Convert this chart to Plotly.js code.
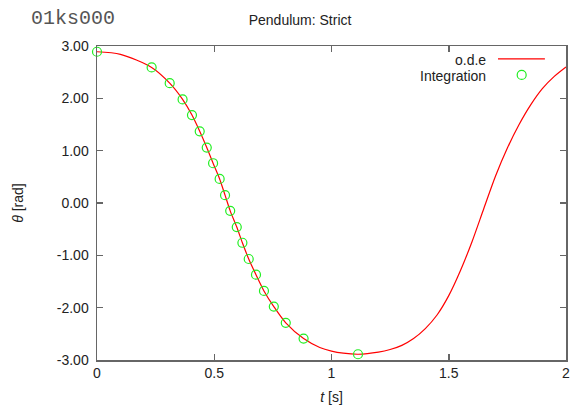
<!DOCTYPE html>
<html>
<head>
<meta charset="utf-8">
<script src="https://cdn.plot.ly/plotly-3.0.1.min.js"></script>
<style>html,body{margin:0;padding:0;background:#fff;}#chart{width:576px;height:410px;}</style>
</head>
<body>
<div id="chart"></div>
<script>
// o.d.e solution curve
const odeT = [0, 0.1, 0.233, 0.31, 0.365, 0.405, 0.438, 0.468, 0.495, 0.523, 0.546, 0.568, 0.596, 0.62, 0.647, 0.678, 0.712, 0.754, 0.805, 0.881, 0.95, 1.0, 1.05, 1.114, 1.2, 1.25, 1.3, 1.35, 1.4, 1.45, 1.5, 1.55, 1.6, 1.65, 1.7, 1.75, 1.8, 1.85, 1.9, 1.95, 2.0];
const odeTheta = [2.89, 2.84, 2.59, 2.29, 1.98, 1.68, 1.37, 1.06, 0.76, 0.46, 0.15, -0.15, -0.46, -0.76, -1.07, -1.37, -1.68, -1.98, -2.29, -2.59, -2.76, -2.83, -2.87, -2.89, -2.85, -2.80, -2.72, -2.59, -2.40, -2.14, -1.77, -1.29, -0.73, -0.10, 0.52, 1.05, 1.50, 1.88, 2.19, 2.42, 2.60];

// Integration points
const intT = [0, 0.233, 0.31, 0.365, 0.405, 0.438, 0.468, 0.495, 0.523, 0.546, 0.568, 0.596, 0.62, 0.647, 0.678, 0.712, 0.754, 0.805, 0.881, 1.113];
const intTheta = [2.89, 2.59, 2.29, 1.98, 1.68, 1.37, 1.06, 0.76, 0.46, 0.15, -0.15, -0.46, -0.76, -1.07, -1.37, -1.68, -1.98, -2.29, -2.59, -2.89];

const xTicks = [0, 0.5, 1, 1.5, 2];
const xTickLabels = ["0", "0.5", "1", "1.5", "2"];
const yTicks = [-3, -2, -1, 0, 1, 2, 3];
const yTickLabels = ["-3.00", "-2.00", "-1.00", "0.00", "1.00", "2.00", "3.00"];

const legendNames = ["o.d.e", "Integration"];

const textColor = "#222";
const axisColor = "#666";
const font = "Liberation Sans, Arial, sans-serif";

const traces = [
  {x: odeT, y: odeTheta, type: "scatter", mode: "lines", name: legendNames[0],
   line: {color: "#ff0000", width: 1.2, shape: "spline", smoothing: 0.8}},
  {x: intT, y: intTheta, type: "scatter", mode: "markers", name: legendNames[1],
   marker: {symbol: "circle-open", size: 9, color: "#22ee22", line: {width: 1.2, color: "#22ee22"}}, cliponaxis: false}
];

const axisCommon = {
  showline: true, linecolor: axisColor, linewidth: 1.5, mirror: "ticks",
  ticks: "inside", ticklen: 6, tickwidth: 1.5, tickcolor: axisColor,
  showgrid: false, zeroline: false,
  tickfont: {family: font, size: 14, color: textColor}
};

const layout = {
  width: 576, height: 410,
  margin: {l: 97, r: 10, t: 46, b: 50},
  paper_bgcolor: "#fff", plot_bgcolor: "#fff",
  showlegend: false,
  title: {text: "Pendulum: Strict", font: {family: font, size: 14, color: textColor},
          x: 0.433, xref: "paper", xanchor: "center", y: 0.951, yanchor: "middle"},
  xaxis: Object.assign({}, axisCommon, {
    range: [0, 2], tickvals: xTicks, ticktext: xTickLabels,
    title: {text: "<i>t</i> [s]", font: {family: font, size: 14, color: textColor}, standoff: 12}
  }),
  yaxis: Object.assign({}, axisCommon, {
    range: [-3, 3], tickvals: yTicks, ticktext: yTickLabels, ticklabelstandoff: 4,
    title: {text: "<i>θ</i> [rad]", font: {family: font, size: 14, color: textColor}, standoff: 30}
  }),
  annotations: [
    {text: "01ks000", xref: "paper", yref: "paper", x: -0.145, y: 1.088, xanchor: "left", yanchor: "middle",
     showarrow: false, font: {family: "Liberation Mono, DejaVu Sans Mono, monospace", size: 20, color: "#555"}},
    {text: legendNames[0], xref: "paper", yref: "paper", x: 0.834, y: 0.955, xanchor: "right", yanchor: "middle",
     showarrow: false, font: {family: font, size: 14, color: textColor}},
    {text: legendNames[1], xref: "paper", yref: "paper", x: 0.834, y: 0.906, xanchor: "right", yanchor: "middle",
     showarrow: false, font: {family: font, size: 14, color: textColor}}
  ],
  shapes: [
    {type: "line", xref: "paper", yref: "paper", x0: 0.855, x1: 0.955, y0: 0.959, y1: 0.959,
     line: {color: "#ff0000", width: 1.2}},
    {type: "circle", xref: "paper", yref: "paper", xsizemode: "pixel", ysizemode: "pixel",
     xanchor: 0.9055, yanchor: 0.908, x0: -4.5, x1: 4.5, y0: -4.5, y1: 4.5,
     line: {color: "#22ee22", width: 1.2}}
  ]
};

Plotly.newPlot("chart", traces, layout, {staticPlot: true, displayModeBar: false});
</script>
</body>
</html>
